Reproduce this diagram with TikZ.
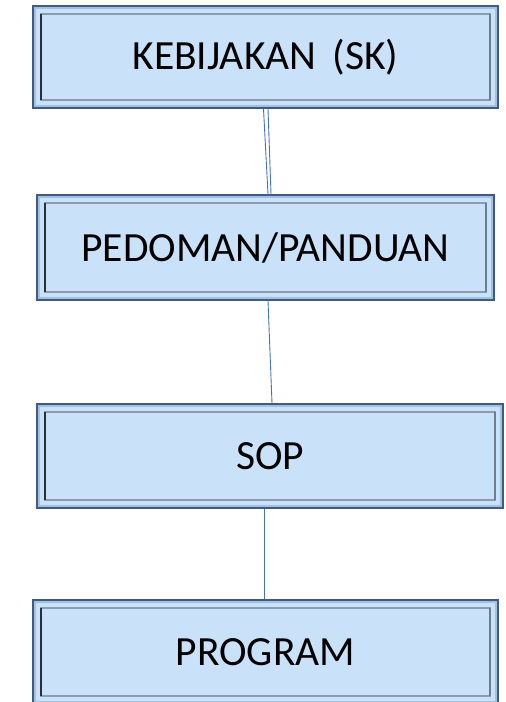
\documentclass[tikz,border=0pt]{standalone}
\usepackage{fontspec}
\setmainfont{Carlito}
\definecolor{boxfill}{RGB}{202,226,249}
\definecolor{boxedge}{RGB}{66,90,128}
\definecolor{bandc}{RGB}{160,192,228}
\definecolor{innerc}{RGB}{140,156,176}
\definecolor{innerdark}{RGB}{40,48,62}
\definecolor{linkc}{RGB}{68,114,196}
\tikzset{
  levelbox/.style={draw=boxedge, fill=boxfill, line width=1.8pt, rectangle,
    inner sep=0pt, font=\fontsize{41.5}{44}\selectfont, text=black},
  link/.style={draw=linkc, line width=0.9pt},
}
\newcommand{\bevelframe}[1]{%
  \draw[bandc, line width=1.4pt] ([shift={(3pt,3pt)}]#1.south west) rectangle ([shift={(-3pt,-3pt)}]#1.north east);
  \draw[innerc, line width=1.4pt] ([shift={(9pt,9pt)}]#1.south west) rectangle ([shift={(-9pt,-9pt)}]#1.north east);
  \draw[innerdark, line width=2.6pt] ([shift={(9pt,9pt)}]#1.south west) -- ([shift={(9pt,-9pt)}]#1.north west);
  \draw[innerc!80!black, line width=1.8pt] ([shift={(-9pt,9pt)}]#1.south east) -- ([shift={(-9pt,-9pt)}]#1.north east);
}
\begin{document}
\begin{tikzpicture}[x=1pt,y=1pt]
\useasboundingbox (0,0) rectangle (506,702);
\node[levelbox, minimum width=465pt, minimum height=102pt] (k) at (265.5,645) {KEBIJAKAN\, (SK)};
\node[levelbox, minimum width=457pt, minimum height=105pt] (p) at (265.5,454.5) {PEDOMAN/PANDUAN};
\node[levelbox, minimum width=466pt, minimum height=104pt] (s) at (270,246) {SOP};
\node[levelbox, minimum width=465pt, minimum height=104pt] (g) at (265.5,50) {PROGRAM};
\bevelframe{k}
\bevelframe{p}
\bevelframe{s}
\bevelframe{g}
\draw[link] ([xshift=-2pt]k.south) -- ([xshift=2.5pt]p.north);
\draw[link] ([xshift=2.5pt]k.south) -- ([xshift=5.5pt]p.north);
\draw[link] ([xshift=2.5pt]p.south) -- ([xshift=2pt]s.north);
\draw[link] ([xshift=-6pt]s.south) -- ([xshift=-1.5pt]g.north);
\end{tikzpicture}
\end{document}
